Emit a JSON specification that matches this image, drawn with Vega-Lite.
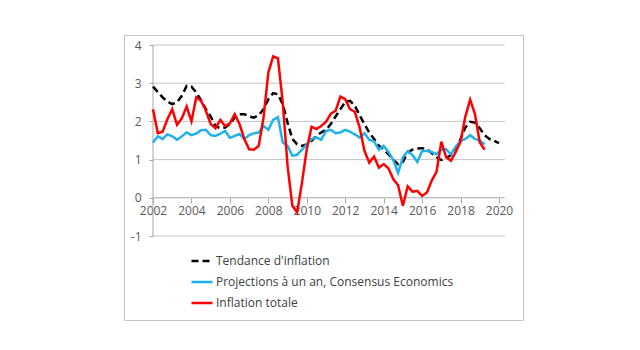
{
  "$schema": "https://vega.github.io/schema/vega-lite/v6.json",
  "width": 399,
  "height": 285,
  "autosize": {"type": "none"},
  "padding": {"left": 124, "top": 35, "right": 117, "bottom": 30},
  "background": "white",
  "config": {
    "view": {"stroke": "#c4c4c4", "strokeWidth": 1},
    "font": "Open Sans",
    "axis": {"labelFont": "Open Sans", "labelFontSize": 12, "labelColor": "#595959", "tickColor": "#a6a6a6", "grid": false, "domain": false},
    "legend": {"labelFont": "Open Sans", "labelFontSize": 12, "labelColor": "#404040", "labelLimit": 0}
  },
  "datasets": {
    "series": [
      {"t": 2002, "a": 2.91, "b": 1.45, "c": 2.32},
      {"t": 2002.25, "a": 2.77, "b": 1.61, "c": 1.69},
      {"t": 2002.5, "a": 2.63, "b": 1.54, "c": 1.73},
      {"t": 2002.75, "a": 2.52, "b": 1.66, "c": 2.06},
      {"t": 2003, "a": 2.45, "b": 1.61, "c": 2.32},
      {"t": 2003.25, "a": 2.50, "b": 1.52, "c": 1.91},
      {"t": 2003.5, "a": 2.67, "b": 1.61, "c": 2.08},
      {"t": 2003.75, "a": 2.93, "b": 1.71, "c": 2.39},
      {"t": 2004, "a": 2.91, "b": 1.64, "c": 2.00},
      {"t": 2004.25, "a": 2.76, "b": 1.68, "c": 2.63},
      {"t": 2004.5, "a": 2.55, "b": 1.77, "c": 2.54},
      {"t": 2004.75, "a": 2.32, "b": 1.78, "c": 2.28},
      {"t": 2005, "a": 2.13, "b": 1.64, "c": 1.93},
      {"t": 2005.25, "a": 1.88, "b": 1.62, "c": 1.82},
      {"t": 2005.5, "a": 1.82, "b": 1.68, "c": 2.04},
      {"t": 2005.75, "a": 1.84, "b": 1.75, "c": 1.88},
      {"t": 2006, "a": 1.93, "b": 1.57, "c": 1.95},
      {"t": 2006.25, "a": 2.10, "b": 1.62, "c": 2.19},
      {"t": 2006.5, "a": 2.19, "b": 1.67, "c": 1.93},
      {"t": 2006.75, "a": 2.19, "b": 1.54, "c": 1.54},
      {"t": 2007, "a": 2.13, "b": 1.64, "c": 1.27},
      {"t": 2007.25, "a": 2.10, "b": 1.69, "c": 1.26},
      {"t": 2007.5, "a": 2.16, "b": 1.71, "c": 1.36},
      {"t": 2007.75, "a": 2.32, "b": 1.88, "c": 2.10},
      {"t": 2008, "a": 2.58, "b": 1.78, "c": 3.28},
      {"t": 2008.25, "a": 2.74, "b": 2.04, "c": 3.70},
      {"t": 2008.5, "a": 2.71, "b": 2.11, "c": 3.65},
      {"t": 2008.75, "a": 2.45, "b": 1.45, "c": 2.50},
      {"t": 2009, "a": 1.97, "b": 1.36, "c": 0.84},
      {"t": 2009.25, "a": 1.54, "b": 1.10, "c": -0.21},
      {"t": 2009.5, "a": 1.40, "b": 1.13, "c": -0.38},
      {"t": 2009.75, "a": 1.36, "b": 1.26, "c": 0.40},
      {"t": 2010, "a": 1.40, "b": 1.40, "c": 1.27},
      {"t": 2010.25, "a": 1.49, "b": 1.54, "c": 1.86},
      {"t": 2010.5, "a": 1.62, "b": 1.58, "c": 1.80},
      {"t": 2010.75, "a": 1.71, "b": 1.52, "c": 1.88},
      {"t": 2011, "a": 1.78, "b": 1.75, "c": 1.99},
      {"t": 2011.25, "a": 1.93, "b": 1.78, "c": 2.20},
      {"t": 2011.5, "a": 2.13, "b": 1.69, "c": 2.28},
      {"t": 2011.75, "a": 2.32, "b": 1.71, "c": 2.65},
      {"t": 2012, "a": 2.51, "b": 1.78, "c": 2.58},
      {"t": 2012.25, "a": 2.54, "b": 1.73, "c": 2.32},
      {"t": 2012.5, "a": 2.41, "b": 1.66, "c": 2.25},
      {"t": 2012.75, "a": 2.16, "b": 1.58, "c": 1.84},
      {"t": 2013, "a": 1.93, "b": 1.69, "c": 1.23},
      {"t": 2013.25, "a": 1.71, "b": 1.52, "c": 0.92},
      {"t": 2013.5, "a": 1.54, "b": 1.48, "c": 1.08},
      {"t": 2013.75, "a": 1.36, "b": 1.26, "c": 0.79},
      {"t": 2014, "a": 1.27, "b": 1.36, "c": 0.88},
      {"t": 2014.25, "a": 1.14, "b": 1.20, "c": 0.77},
      {"t": 2014.5, "a": 0.99, "b": 0.99, "c": 0.49},
      {"t": 2014.75, "a": 0.88, "b": 0.65, "c": 0.33},
      {"t": 2015, "a": 0.94, "b": 1.06, "c": -0.21},
      {"t": 2015.25, "a": 1.19, "b": 1.22, "c": 0.30},
      {"t": 2015.5, "a": 1.26, "b": 1.12, "c": 0.16},
      {"t": 2015.75, "a": 1.29, "b": 0.94, "c": 0.18},
      {"t": 2016, "a": 1.30, "b": 1.22, "c": 0.05},
      {"t": 2016.25, "a": 1.27, "b": 1.23, "c": 0.14},
      {"t": 2016.5, "a": 1.17, "b": 1.20, "c": 0.45},
      {"t": 2016.75, "a": 1.06, "b": 1.14, "c": 0.68},
      {"t": 2017, "a": 0.99, "b": 1.26, "c": 1.47},
      {"t": 2017.25, "a": 1.03, "b": 1.27, "c": 1.06},
      {"t": 2017.5, "a": 1.12, "b": 1.14, "c": 0.97},
      {"t": 2017.75, "a": 1.23, "b": 1.34, "c": 1.20},
      {"t": 2018, "a": 1.54, "b": 1.49, "c": 1.47},
      {"t": 2018.25, "a": 1.84, "b": 1.54, "c": 2.13},
      {"t": 2018.5, "a": 1.99, "b": 1.64, "c": 2.57},
      {"t": 2018.75, "a": 1.97, "b": 1.54, "c": 2.19},
      {"t": 2019, "a": 1.82, "b": 1.50, "c": 1.45},
      {"t": 2019.25, "a": 1.64, "b": 1.40, "c": 1.26},
      {"t": 2019.5, "a": 1.54},
      {"t": 2019.75, "a": 1.49},
      {"t": 2020, "a": 1.43}
    ],
    "grid": [{"g": 4}, {"g": 3}, {"g": 2}, {"g": 1}, {"g": -1}]
  },
  "layer": [
    {
      "data": {"name": "grid"},
      "mark": {"type": "rule", "color": "#c4c4c4", "strokeWidth": 1},
      "encoding": {
        "y": {"field": "g", "type": "quantitative", "scale": {"domain": [-3.199, 4.262], "nice": false, "zero": false},
              "axis": {"values": [-1, 0, 1, 2, 3, 4], "labelExpr": "'' + datum.value", "offset": -29, "tickSize": 4, "labelPadding": 8, "title": null}},
        "x": {"datum": 2002, "type": "quantitative", "scale": {"domain": [2000.491, 2021.249], "nice": false, "zero": false},
              "axis": {"values": [2002, 2004, 2006, 2008, 2010, 2012, 2014, 2016, 2018, 2020], "format": "d", "offset": -122, "tickSize": 5, "labelPadding": 2, "title": null}},
        "x2": {"datum": 2020.3}
      }
    },
    {
      "data": {"values": [{}]},
      "mark": {"type": "rule", "color": "#a6a6a6", "strokeWidth": 1},
      "encoding": {
        "x": {"datum": 2002, "type": "quantitative"},
        "y": {"datum": -1, "type": "quantitative"},
        "y2": {"datum": 4}
      }
    },
    {
      "data": {"values": [{}]},
      "mark": {"type": "rule", "color": "#a6a6a6", "strokeWidth": 1},
      "encoding": {
        "x": {"datum": 2002, "type": "quantitative"},
        "x2": {"datum": 2020.3},
        "y": {"datum": 0, "type": "quantitative"}
      }
    },
    {
      "data": {"name": "series"},
      "transform": [
        {"fold": ["a", "b", "c"], "as": ["serie", "v"]},
        {"filter": "datum.v != null"}
      ],
      "mark": {"type": "line", "strokeWidth": 2.5},
      "encoding": {
        "x": {"field": "t", "type": "quantitative"},
        "y": {"field": "v", "type": "quantitative"},
        "color": {
          "field": "serie", "type": "nominal",
          "scale": {"domain": ["a", "b", "c"], "range": ["#000000", "#1fb1ec", "#ff0000"]},
          "legend": {"orient": "none", "legendX": 66, "legendY": 214, "title": null, "symbolType": "stroke", "symbolSize": 441, "symbolStrokeWidth": 2.5, "rowPadding": 3, "labelOffset": 2, "labelLimit": 0,
                     "labelExpr": "datum.label == 'a' ? \"Tendance d'inflation\" : datum.label == 'b' ? 'Projections à un an, Consensus Economics' : 'Inflation totale'"}
        },
        "strokeDash": {
          "field": "serie", "type": "nominal",
          "scale": {"domain": ["a", "b", "c"], "range": [[7, 4], [1, 0], [1, 0]]},
          "legend": {"orient": "none", "legendX": 66, "legendY": 214, "title": null, "symbolType": "stroke", "symbolSize": 441, "symbolStrokeWidth": 2.5, "rowPadding": 3, "labelOffset": 2, "labelLimit": 0,
                     "labelExpr": "datum.label == 'a' ? \"Tendance d'inflation\" : datum.label == 'b' ? 'Projections à un an, Consensus Economics' : 'Inflation totale'"}
        }
      }
    }
  ]
}
